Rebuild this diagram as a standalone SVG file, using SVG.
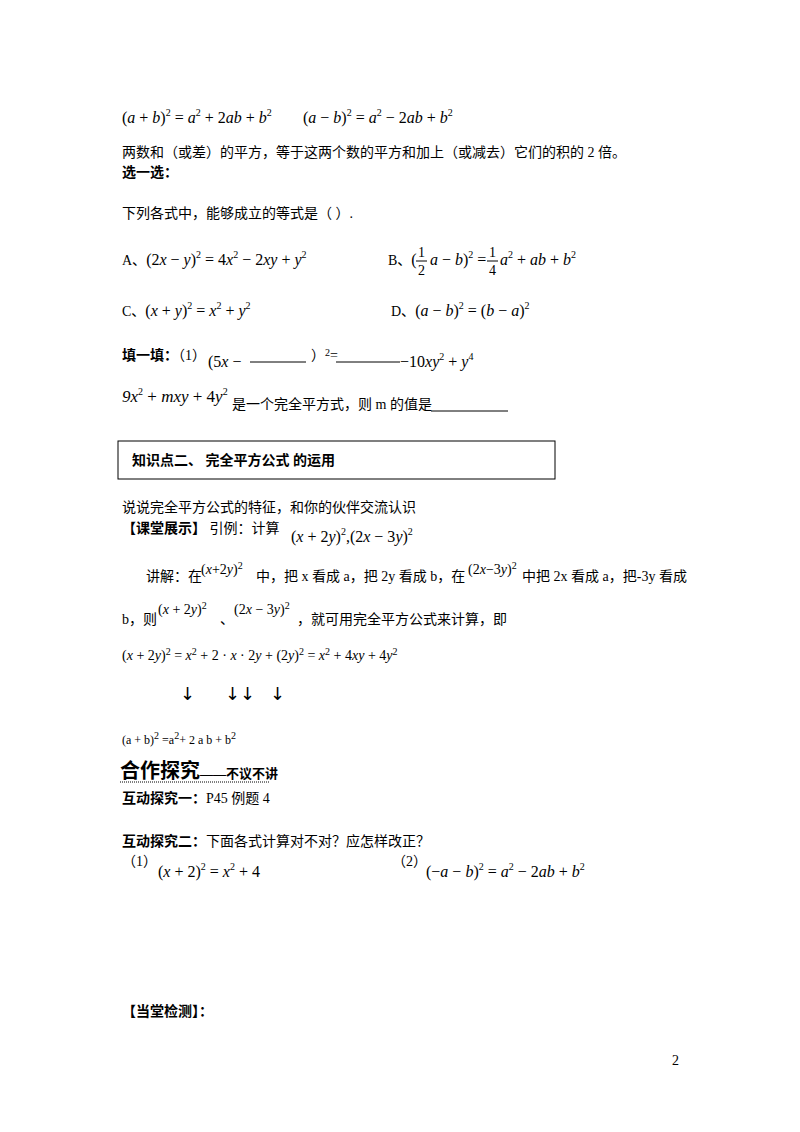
<svg xmlns="http://www.w3.org/2000/svg" width="800" height="1132" viewBox="0 0 800 1132">
<style>
text{font-family:"Liberation Serif","Noto Sans CJK SC",serif;font-size:14px;fill:#000}
.m{font-family:"Liberation Serif",serif;font-size:16px}
.n{font-family:"Liberation Serif",serif;font-size:14px}
.i{font-style:italic}
.b{font-weight:bold}
.s{font-size:10px}
.ar{font-family:"DejaVu Sans",sans-serif;font-size:18px}
line{stroke:#000;stroke-width:1}
</style>
<rect width="800" height="1132" fill="#fff"/>
<text class="m" x="122" y="123">(<tspan class="i">a</tspan> + <tspan class="i">b</tspan>)<tspan class="s" dy="-7">2</tspan><tspan dy="7"> = </tspan><tspan class="i">a</tspan><tspan class="s" dy="-7">2</tspan><tspan dy="7"> + 2</tspan><tspan class="i">ab</tspan> + <tspan class="i">b</tspan><tspan class="s" dy="-7">2</tspan></text>
<text class="m" x="303" y="123">(<tspan class="i">a</tspan> − <tspan class="i">b</tspan>)<tspan class="s" dy="-7">2</tspan><tspan dy="7"> = </tspan><tspan class="i">a</tspan><tspan class="s" dy="-7">2</tspan><tspan dy="7"> − 2</tspan><tspan class="i">ab</tspan> + <tspan class="i">b</tspan><tspan class="s" dy="-7">2</tspan></text>
<text x="122" y="157">两数和（或差）的平方，等于这两个数的平方和加上（或减去）它们的积的 2 倍。</text>
<text x="122" y="177" class="b">选一选：</text>
<text x="122" y="218">下列各式中，能够成立的等式是（ ）.</text>
<text x="122" y="265">A、<tspan class="m">(2<tspan class="i">x</tspan> − <tspan class="i">y</tspan>)<tspan class="s" dy="-7">2</tspan><tspan dy="7"> = 4</tspan><tspan class="i">x</tspan><tspan class="s" dy="-7">2</tspan><tspan dy="7"> − 2</tspan><tspan class="i">xy</tspan> + <tspan class="i">y</tspan><tspan class="s" dy="-7">2</tspan></tspan></text>
<text x="388" y="265">B、<tspan class="m">(</tspan></text>
<text class="n" x="418" y="257">1</text><line x1="416" y1="261" x2="427" y2="261"/><text class="n" x="418" y="275">2</text>
<text class="m" x="430" y="265"><tspan class="i">a</tspan> − <tspan class="i">b</tspan>)<tspan class="s" dy="-7">2</tspan><tspan dy="7"> = </tspan></text>
<text class="n" x="489" y="257">1</text><line x1="487" y1="261" x2="498" y2="261"/><text class="n" x="489" y="275">4</text>
<text class="m" x="500" y="265"><tspan class="i">a</tspan><tspan class="s" dy="-7">2</tspan><tspan dy="7"> + </tspan><tspan class="i">ab</tspan> + <tspan class="i">b</tspan><tspan class="s" dy="-7">2</tspan></text>
<text x="122" y="316">C、<tspan class="m">(<tspan class="i">x</tspan> + <tspan class="i">y</tspan>)<tspan class="s" dy="-7">2</tspan><tspan dy="7"> = </tspan><tspan class="i">x</tspan><tspan class="s" dy="-7">2</tspan><tspan dy="7"> + </tspan><tspan class="i">y</tspan><tspan class="s" dy="-7">2</tspan></tspan></text>
<text x="391" y="316">D、<tspan class="m">(<tspan class="i">a</tspan> − <tspan class="i">b</tspan>)<tspan class="s" dy="-7">2</tspan><tspan dy="7"> = (</tspan><tspan class="i">b</tspan> − <tspan class="i">a</tspan>)<tspan class="s" dy="-7">2</tspan></tspan></text>
<text x="122" y="360"><tspan class="b">填一填：</tspan>（1）</text>
<text class="m" x="208" y="367">(5<tspan class="i">x</tspan> −</text>
<line x1="250" y1="362" x2="306" y2="362"/>
<text x="311" y="360">）<tspan class="s" dy="-4">2</tspan><tspan dy="4">=</tspan></text>
<line x1="336" y1="362" x2="400" y2="362"/>
<text class="m" x="400" y="367">−10<tspan class="i">xy</tspan><tspan class="s" dy="-7">2</tspan><tspan dy="7"> + </tspan><tspan class="i">y</tspan><tspan class="s" dy="-7">4</tspan></text>
<text class="m" x="122" y="402" style="font-size:17px"><tspan class="i">9x</tspan><tspan class="s" dy="-7">2</tspan><tspan dy="7"> + </tspan><tspan class="i">mxy</tspan> + 4<tspan class="i">y</tspan><tspan class="s" dy="-7">2</tspan></text>
<text x="232" y="409">是一个完全平方式，则 m 的值是</text>
<line x1="431" y1="411" x2="508" y2="411"/>
<rect x="118" y="441" width="437" height="38" fill="none" stroke="#000"/>
<text x="132" y="465" class="b">知识点二、  完全平方公式 的运用</text>
<text x="122" y="512">说说完全平方公式的特征，和你的伙伴交流认识</text>
<text x="122" y="533"><tspan class="b">【课堂展示】</tspan>  引例：计算</text>
<text class="m" x="291" y="542">(<tspan class="i">x</tspan> + 2<tspan class="i">y</tspan>)<tspan class="s" dy="-7">2</tspan><tspan dy="7">,(2</tspan><tspan class="i">x</tspan> − 3<tspan class="i">y</tspan>)<tspan class="s" dy="-7">2</tspan></text>
<text x="146" y="581">讲解：在</text>
<text class="n" x="201" y="574">(<tspan class="i">x</tspan>+2<tspan class="i">y</tspan>)<tspan class="s" dy="-5">2</tspan></text>
<text x="256" y="581">中，把 x 看成 a，把 2y 看成 b，在</text>
<text class="n" x="468" y="574">(2<tspan class="i">x</tspan>−3<tspan class="i">y</tspan>)<tspan class="s" dy="-5">2</tspan></text>
<text x="522" y="581">中把 2x 看成 a，把-3y 看成</text>
<text x="122" y="624">b，则</text>
<text class="n" x="158" y="614">(<tspan class="i">x</tspan> + 2<tspan class="i">y</tspan>)<tspan class="s" dy="-5">2</tspan></text>
<text x="220" y="624">、</text>
<text class="n" x="234" y="614">(2<tspan class="i">x</tspan> − 3<tspan class="i">y</tspan>)<tspan class="s" dy="-5">2</tspan></text>
<text x="297" y="624">，就可用完全平方公式来计算，即</text>
<text class="n" x="122" y="660">(<tspan class="i">x</tspan> + 2<tspan class="i">y</tspan>)<tspan class="s" dy="-5">2</tspan><tspan dy="5"> = </tspan><tspan class="i">x</tspan><tspan class="s" dy="-5">2</tspan><tspan dy="5"> + 2 · </tspan><tspan class="i">x</tspan> · 2<tspan class="i">y</tspan> + (2<tspan class="i">y</tspan>)<tspan class="s" dy="-5">2</tspan><tspan dy="5"> = </tspan><tspan class="i">x</tspan><tspan class="s" dy="-5">2</tspan><tspan dy="5"> + 4</tspan><tspan class="i">xy</tspan> + 4<tspan class="i">y</tspan><tspan class="s" dy="-5">2</tspan></text>
<text class="ar" x="180" y="700">↓</text>
<text class="ar" x="225" y="700">↓↓</text>
<text class="ar" x="270" y="700">↓</text>
<text x="122" y="744" style="font-size:12px">(a + b)<tspan class="s" dy="-5">2</tspan><tspan dy="5"> =a</tspan><tspan class="s" dy="-5">2</tspan><tspan dy="5">+   2 a b + b</tspan><tspan class="s" dy="-5">2</tspan></text>
<text x="120" y="778" class="b" style="font-size:20px">合作探究<tspan style="font-size:13px">——不议不讲</tspan></text>
<line x1="120" y1="782" x2="270" y2="782" stroke-dasharray="1,1"/>
<text x="122" y="803" class="b">互动探究一：<tspan style="font-weight:normal">P45 例题 4</tspan></text>
<text x="122" y="846"><tspan class="b">互动探究二：</tspan>下面各式计算对不对？应怎样改正？</text>
<text x="122" y="866">（1）</text>
<text class="m" x="158" y="877">(<tspan class="i">x</tspan> + 2)<tspan class="s" dy="-7">2</tspan><tspan dy="7"> = </tspan><tspan class="i">x</tspan><tspan class="s" dy="-7">2</tspan><tspan dy="7"> + 4</tspan></text>
<text x="392" y="866">（2）</text>
<text class="m" x="426" y="877">(−<tspan class="i">a</tspan> − <tspan class="i">b</tspan>)<tspan class="s" dy="-7">2</tspan><tspan dy="7"> = </tspan><tspan class="i">a</tspan><tspan class="s" dy="-7">2</tspan><tspan dy="7"> − 2</tspan><tspan class="i">ab</tspan> + <tspan class="i">b</tspan><tspan class="s" dy="-7">2</tspan></text>
<text x="122" y="1016" class="b">【当堂检测】：</text>
<text x="672" y="1065">2</text>
</svg>
